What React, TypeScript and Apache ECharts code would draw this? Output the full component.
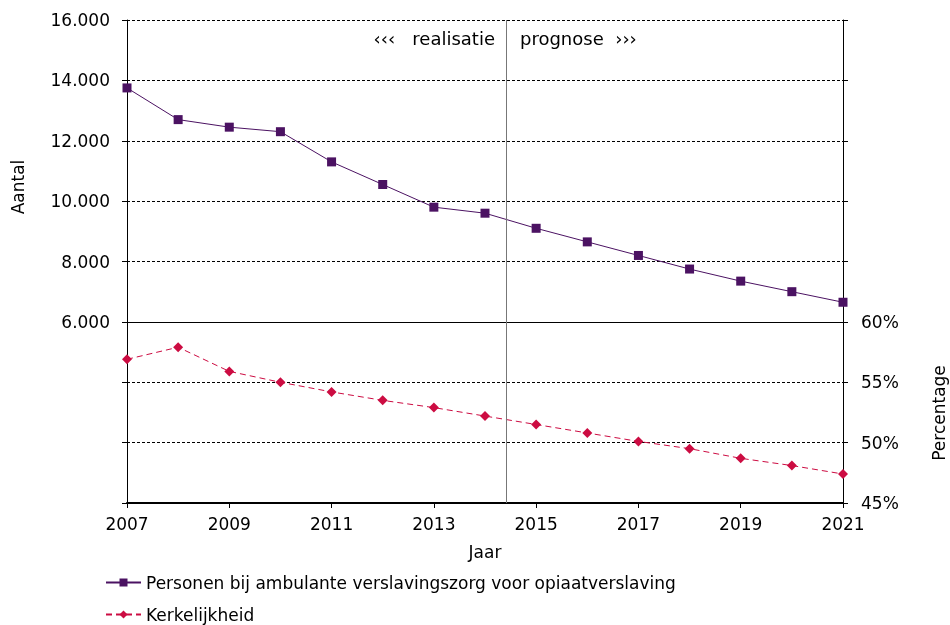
import React, { useEffect, useRef } from "react";
import * as echarts from "echarts";

const years = [2007, 2008, 2009, 2010, 2011, 2012, 2013, 2014, 2015, 2016, 2017, 2018, 2019, 2020, 2021];
const opiaat = [13750, 12700, 12450, 12300, 11300, 10550, 9800, 9600, 9100, 8650, 8200, 7750, 7350, 7000, 6650];
const kerkelijkheid = [56.9, 57.9, 55.9, 55.0, 54.2, 53.5, 52.9, 52.2, 51.5, 50.8, 50.1, 49.5, 48.7, 48.1, 47.4];
const seriesNames = ["Personen bij ambulante verslavingszorg voor opiaatverslaving", "Kerkelijkheid"];
const splitYear = 2014.42;
const FONT = "DejaVu Sans";
const FS = 17;

function fmtThousands(v: number): string {
  return String(v).replace(/\B(?=(\d{3})+(?!\d))/g, ".");
}

export default function App() {
  const ref = useRef<HTMLDivElement>(null);
  useEffect(() => {
    if (!ref.current) return;
    const chart = echarts.init(ref.current, undefined, { renderer: "svg" });
    const purple = "#4b1262";
    const red = "#cc0c42";
    const legendText = { fontFamily: FONT, fontSize: FS, color: "#000" };
    chart.setOption({
      animation: false,
      textStyle: { fontFamily: FONT, color: "#000" },
      grid: { left: 127, right: 107, top: 20, bottom: 122, containLabel: false },
      legend: [
        {
          orient: "vertical",
          left: 105,
          top: 574,
          itemWidth: 35,
          itemHeight: 10,
          padding: 0,
          textStyle: legendText,
          data: [seriesNames[0]],
        },
        {
          orient: "vertical",
          left: 105,
          top: 606,
          itemWidth: 35,
          itemHeight: 10,
          padding: 0,
          textStyle: legendText,
          data: [seriesNames[1]],
        },
      ],
      xAxis: {
        type: "value",
        min: 2007,
        max: 2021,
        interval: 2,
        name: "Jaar",
        nameLocation: "middle",
        nameGap: 40,
        nameTextStyle: { fontFamily: FONT, fontSize: FS, color: "#000" },
        axisLine: { lineStyle: { color: "#000", width: 2 } },
        axisTick: { show: true, inside: false, length: 5, lineStyle: { color: "#000" } },
        axisLabel: { formatter: (v: number) => String(v), fontSize: FS, color: "#000", margin: 12, fontFamily: FONT },
        splitLine: { show: false },
      },
      yAxis: [
        {
          type: "value",
          min: 0,
          max: 16000,
          interval: 2000,
          axisLine: { show: true, lineStyle: { color: "#000", width: 1 } },
          axisTick: { show: true, length: 5, lineStyle: { color: "#000" } },
          axisLabel: {
            fontSize: FS,
            color: "#000",
            margin: 17,
            fontFamily: FONT,
            formatter: (v: number) => (v >= 6000 ? fmtThousands(v) : ""),
          },
          splitLine: { show: true, lineStyle: { color: "#000", type: [3, 2], width: 1 } },
        },
        {
          type: "value",
          min: 45,
          max: 85,
          interval: 5,
          position: "right",
          axisLine: { show: true, lineStyle: { color: "#000", width: 1 } },
          axisTick: { show: true, length: 5, lineStyle: { color: "#000" } },
          axisLabel: {
            fontSize: FS,
            color: "#000",
            margin: 18,
            fontFamily: FONT,
            formatter: (v: number) => (v <= 60 ? v + "%" : ""),
          },
          splitLine: { show: false },
        },
      ],
      graphic: [
        {
          type: "text",
          x: 495,
          y: 38,
          style: { text: "‹‹‹   realisatie", font: `18px "${FONT}"`, fill: "#000", textAlign: "right", textVerticalAlign: "middle" },
        },
        {
          type: "text",
          x: 520,
          y: 38,
          style: { text: "prognose  ›››", font: `18px "${FONT}"`, fill: "#000", textAlign: "left", textVerticalAlign: "middle" },
        },
        {
          type: "text",
          x: 18,
          y: 187,
          rotation: Math.PI / 2,
          style: { text: "Aantal", font: `${FS}px "${FONT}"`, fill: "#000", textAlign: "center", textVerticalAlign: "middle" },
        },
        {
          type: "text",
          x: 939,
          y: 413,
          rotation: Math.PI / 2,
          style: { text: "Percentage", font: `${FS}px "${FONT}"`, fill: "#000", textAlign: "center", textVerticalAlign: "middle" },
        },
      ],
      series: [
        {
          name: seriesNames[0],
          type: "line",
          yAxisIndex: 0,
          data: years.map((y, i) => [y, opiaat[i]]),
          symbol: "rect",
          symbolSize: 9,
          itemStyle: { color: purple },
          lineStyle: { color: purple, width: 1 },
          markLine: {
            silent: true,
            symbol: "none",
            label: { show: false },
            data: [
              { yAxis: 6000, lineStyle: { color: "#000", type: "solid", width: 1 } },
              { xAxis: splitYear, lineStyle: { color: "#777", type: "solid", width: 1 } },
            ],
          },
        },
        {
          name: seriesNames[1],
          type: "line",
          yAxisIndex: 1,
          data: years.map((y, i) => [y, kerkelijkheid[i]]),
          symbol: "diamond",
          symbolSize: 10,
          itemStyle: { color: red },
          lineStyle: { color: red, width: 1, type: [6, 4] },
        },
      ],
    });
    return () => chart.dispose();
  }, []);
  return (
    <div style={{ position: "fixed", left: 0, top: 0 }}>
      <div ref={ref} style={{ width: 950, height: 625 }} />
    </div>
  );
}
